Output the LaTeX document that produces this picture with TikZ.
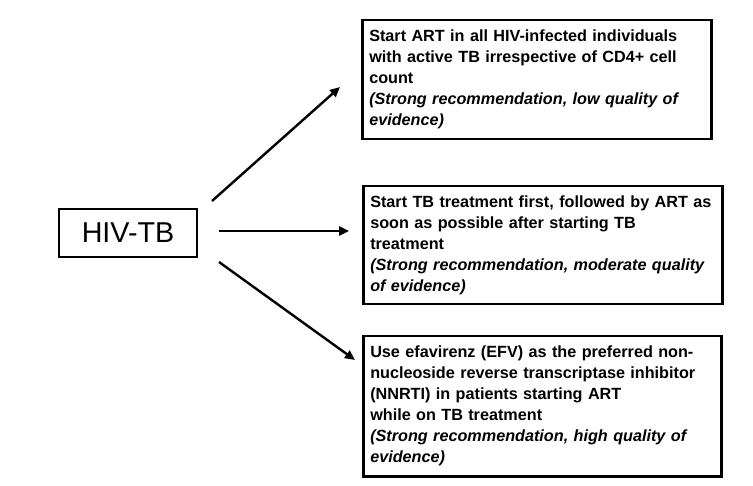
\documentclass[tikz,border=0pt]{standalone}
\usepackage{fontspec}
\setmainfont{Liberation Sans}
\usetikzlibrary{arrows.meta}
\begin{document}
\begin{tikzpicture}[x=1pt,y=-1pt,
  recbox/.style={draw=black, line width=2.5pt, anchor=north west, inner xsep=7pt, inner ysep=0pt,
    align=left, font=\fontsize{16.2}{21}\selectfont\bfseries},
  arr/.style={line width=2.4pt, -{Triangle[length=10pt,width=9pt]}}]
\useasboundingbox (0,0) rectangle (753,486);
\node[draw=black, line width=2.8pt, minimum width=138pt, minimum height=48pt, inner sep=0pt,
  font=\fontsize{28.7}{32}\selectfont] (hiv) at (128,233) {HIV-TB};
\node[recbox, text width=335pt, minimum height=119pt] (b1) at (361,19)
  {Start ART in all HIV-infected individuals\\with active TB irrespective of CD4+ cell\\count\\\textit{(Strong recommendation, low quality of}\\\textit{evidence)}};
\node[recbox, text width=345pt, minimum height=118pt] (b2) at (362,185)
  {Start TB treatment first, followed by ART as\\soon as possible after starting TB\\treatment\\\textit{(Strong recommendation, moderate quality}\\\textit{of evidence)}};
\node[recbox, text width=344pt, minimum height=140pt] (b3) at (362,335)
  {Use efavirenz (EFV) as the preferred non-\\nucleoside reverse transcriptase inhibitor\\(NNRTI) in patients starting ART\\while on TB treatment\\\textit{(Strong recommendation, high quality of}\\\textit{evidence)}};
\coordinate (s1) at (212,201);
\coordinate (e1) at (340,87);
\coordinate (s2) at (219,231);
\coordinate (e2) at (349,231);
\coordinate (s3) at (219,262);
\coordinate (e3) at (355,360);
\draw[arr] (s1) -- (e1);
\draw[arr] (s2) -- (e2);
\draw[arr] (s3) -- (e3);
\end{tikzpicture}
\end{document}
